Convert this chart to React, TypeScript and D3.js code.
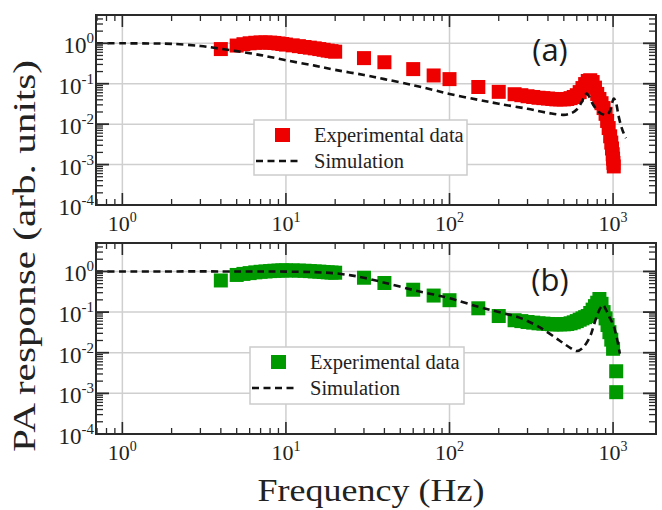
import React from "react";
import * as d3 from "d3";

// Panel (a): experimental response and simulation
const redFreq = [4, 5, 5.5, 6, 6.5, 7, 7.5, 8, 8.5, 9, 9.5, 10, 11, 12, 13, 14, 15, 16, 17, 18, 19, 20, 30, 40, 60, 80, 100, 150, 200, 250, 275, 300, 325, 350, 375, 400, 425, 450, 475, 500, 525, 550, 575, 600, 625, 650, 675, 700, 725, 750, 775, 800, 825, 850, 875, 900, 920, 940, 960, 975, 985, 995, 1000, 1005, 1010];
const redResp = [0.72, 0.88, 0.95, 1.0, 1.03, 1.05, 1.05, 1.04, 1.02, 0.99, 0.96, 0.93, 0.89, 0.85, 0.81, 0.78, 0.75, 0.72, 0.69, 0.66, 0.64, 0.62, 0.43, 0.34, 0.23, 0.16, 0.13, 0.083, 0.063, 0.055, 0.052, 0.049, 0.047, 0.045, 0.044, 0.043, 0.042, 0.041, 0.041, 0.041, 0.042, 0.044, 0.047, 0.052, 0.062, 0.078, 0.098, 0.117, 0.122, 0.11, 0.08, 0.056, 0.042, 0.033, 0.025, 0.018, 0.012, 0.008, 0.005, 0.0035, 0.0025, 0.0018, 0.0014, 0.0011, 0.0009];
const simAFreq = [0.69, 1, 1.5, 2, 3, 4, 5, 6, 7, 8, 10, 15, 20, 30, 40, 60, 80, 100, 150, 200, 300, 400, 500, 560, 600, 640, 670, 690, 710, 750, 800, 850, 920, 960, 990, 1010, 1040, 1080, 1120, 1160, 1200];
const simAResp = [1.0, 1.0, 0.99, 0.97, 0.86, 0.73, 0.64, 0.57, 0.51, 0.46, 0.38, 0.28, 0.22, 0.165, 0.13, 0.092, 0.07, 0.056, 0.04, 0.032, 0.024, 0.019, 0.017, 0.019, 0.023, 0.034, 0.05, 0.057, 0.05, 0.032, 0.022, 0.018, 0.017, 0.022, 0.035, 0.043, 0.035, 0.016, 0.009, 0.006, 0.0045];

// Panel (b): experimental response and simulation
const greenFreq = [4, 5, 5.5, 6, 6.5, 7, 7.5, 8, 8.5, 9, 9.5, 10, 11, 12, 13, 14, 15, 16, 17, 18, 19, 20, 30, 40, 60, 80, 100, 150, 200, 250, 275, 300, 325, 350, 375, 400, 425, 450, 475, 500, 525, 550, 575, 600, 625, 650, 675, 700, 725, 750, 775, 800, 825, 850, 875, 900, 925, 950, 975, 1000, 1045, 1045];
const greenResp = [0.6, 0.82, 0.87, 0.91, 0.95, 0.98, 1.0, 1.02, 1.04, 1.05, 1.06, 1.06, 1.06, 1.05, 1.04, 1.02, 1.0, 0.99, 0.97, 0.95, 0.94, 0.93, 0.7, 0.52, 0.355, 0.255, 0.196, 0.124, 0.08, 0.063, 0.06, 0.057, 0.055, 0.053, 0.052, 0.051, 0.05, 0.05, 0.05, 0.05, 0.051, 0.053, 0.056, 0.06, 0.065, 0.07, 0.075, 0.08, 0.095, 0.115, 0.14, 0.17, 0.21, 0.16, 0.1, 0.07, 0.048, 0.032, 0.021, 0.0125, 0.0035, 0.00107];
const simBFreq = [0.69, 1, 5, 10, 15, 20, 25, 30, 40, 60, 80, 100, 150, 200, 265, 350, 470, 550, 600, 650, 720, 760, 800, 840, 870, 900, 950, 1000, 1050, 1100];
const simBResp = [1.0, 1.0, 1.0, 0.99, 0.96, 0.9, 0.8, 0.7, 0.53, 0.35, 0.27, 0.22, 0.135, 0.1, 0.074, 0.044, 0.02, 0.013, 0.011, 0.013, 0.024, 0.045, 0.085, 0.13, 0.15, 0.12, 0.075, 0.05, 0.025, 0.0095];

const xMajor = [1, 10, 100, 1000];
const yMajor = [1e-4, 1e-3, 1e-2, 1e-1, 1];
const xTickExp = ["0", "1", "2", "3"];
const yTickExp = ["-4", "-3", "-2", "-1", "0"];
const legendLabels = ["Experimental data", "Simulation"];
const panelTags = ["(a)", "(b)"];

const W = 662;
const H = 510;
const LEFT = 96;
const RIGHT = 656;
const SERIF = "Liberation Serif";
const FRAME = "#2a2a2a";

type PanelProps = {
  top: number;
  bottom: number;
  freq: number[];
  resp: number[];
  simFreq: number[];
  simResp: number[];
  color: string;
  tag: string;
  tagY: number;
  legend: { x: number; y: number; w: number; h: number };
};

function minorTicks(lo: number, hi: number, startExp: number, endExp: number) {
  const out: number[] = [];
  for (let e = startExp; e <= endExp; e++) {
    for (let k = 2; k <= 9; k++) {
      const v = k * Math.pow(10, e);
      if (v > lo && v < hi) out.push(v);
    }
  }
  return out;
}

function Panel(p: PanelProps) {
  const x = d3.scaleLog().domain([0.69, 1830]).range([LEFT, RIGHT]);
  const y = d3.scaleLog().domain([1e-4, Math.pow(10, 0.7)]).range([p.bottom, p.top]);
  const xMinor = minorTicks(0.69, 1830, -1, 3);
  const yMinor = minorTicks(1e-4, Math.pow(10, 0.7), -4, 0);
  const line = d3
    .line<number>()
    .x((_, i) => x(p.simFreq[i]))
    .y((d) => y(d))
    .curve(d3.curveCatmullRom.alpha(0.5));
  const sq = 14;
  const lg = p.legend;
  return (
    <g>
      {/* decade grid */}
      {xMajor.map((v) => (
        <line key={"gx" + v} x1={x(v)} x2={x(v)} y1={p.top} y2={p.bottom} stroke="#cfcfcf" strokeWidth={1.5} />
      ))}
      {yMajor.slice(1).map((v) => (
        <line key={"gy" + v} x1={LEFT} x2={RIGHT} y1={y(v)} y2={y(v)} stroke="#cfcfcf" strokeWidth={1.5} />
      ))}

      {/* legend box sits over the grid */}
      <rect x={lg.x} y={lg.y} width={lg.w} height={lg.h} fill="#fff" stroke="#cccccc" strokeWidth={1.5} />

      {/* experimental points */}
      {p.freq.map((f, i) => (
        <rect key={"pt" + i} x={x(f) - sq / 2} y={y(p.resp[i]) - sq / 2} width={sq} height={sq} fill={p.color} />
      ))}

      {/* simulation */}
      <path d={line(p.simResp) || ""} fill="none" stroke="#111" strokeWidth={2.6} strokeDasharray="7,4.5" />

      {/* ticks, all four sides, pointing inward */}
      {xMajor.map((v) => (
        <g key={"tx" + v}>
          <line x1={x(v)} x2={x(v)} y1={p.bottom} y2={p.bottom - 12} stroke={FRAME} strokeWidth={1.6} />
          <line x1={x(v)} x2={x(v)} y1={p.top} y2={p.top + 12} stroke={FRAME} strokeWidth={1.6} />
        </g>
      ))}
      {xMinor.map((v) => (
        <g key={"mx" + v}>
          <line x1={x(v)} x2={x(v)} y1={p.bottom} y2={p.bottom - 6} stroke={FRAME} strokeWidth={1.3} />
          <line x1={x(v)} x2={x(v)} y1={p.top} y2={p.top + 6} stroke={FRAME} strokeWidth={1.3} />
        </g>
      ))}
      {yMajor.map((v) => (
        <g key={"ty" + v}>
          <line x1={LEFT} x2={LEFT + 13} y1={y(v)} y2={y(v)} stroke={FRAME} strokeWidth={1.8} />
          <line x1={RIGHT} x2={RIGHT - 13} y1={y(v)} y2={y(v)} stroke={FRAME} strokeWidth={1.8} />
        </g>
      ))}
      {yMinor.map((v) => (
        <g key={"my" + v}>
          <line x1={LEFT} x2={LEFT + 7} y1={y(v)} y2={y(v)} stroke={FRAME} strokeWidth={1.3} />
          <line x1={RIGHT} x2={RIGHT - 7} y1={y(v)} y2={y(v)} stroke={FRAME} strokeWidth={1.3} />
        </g>
      ))}

      {/* frame */}
      <rect x={LEFT} y={p.top} width={RIGHT - LEFT} height={p.bottom - p.top} fill="none" stroke={FRAME} strokeWidth={2} />

      {/* tick labels */}
      {xMajor.map((v, i) => (
        <text key={"lx" + v} x={x(v)} y={p.bottom + 26} textAnchor="middle" fontFamily={SERIF} fontSize={22} fill="#222">
          10<tspan dy={-9} fontSize={14}>{xTickExp[i]}</tspan>
        </text>
      ))}
      {yMajor.map((v, i) => (
        <text key={"ly" + v} x={94} y={y(v) + 10} textAnchor="end" fontFamily={SERIF} fontSize={23} fill="#222">
          10<tspan dy={-10} fontSize={15}>{yTickExp[i]}</tspan>
        </text>
      ))}

      {/* legend contents */}
      <rect x={lg.x + 21} y={lg.y + 8} width={15} height={14} fill={p.color} />
      <text x={lg.x + 60} y={lg.y + 22} fontFamily={SERIF} fontSize={20.5} fill="#222">
        {legendLabels[0]}
      </text>
      <line x1={lg.x + 2} x2={lg.x + 48} y1={lg.y + 41} y2={lg.y + 41} stroke="#111" strokeWidth={2.6} strokeDasharray="7,4.5" />
      <text x={lg.x + 60} y={lg.y + 48} fontFamily={SERIF} fontSize={20.5} fill="#222">
        {legendLabels[1]}
      </text>

      <text x={550} y={p.tagY} textAnchor="middle" fontFamily="Open Sans" fontSize={31} fill="#1a1a1a">
        {p.tag}
      </text>
    </g>
  );
}

export default function App() {
  return (
    <svg width={W} height={H} style={{ position: "absolute", left: 0, top: 0, background: "#fff" }}>
      <rect width={W} height={H} fill="#fff" />
      <Panel
        top={15}
        bottom={205}
        freq={redFreq}
        resp={redResp}
        simFreq={simAFreq}
        simResp={simAResp}
        color="#ee0000"
        tag={panelTags[0]}
        tagY={61}
        legend={{ x: 254, y: 120, w: 213, h: 55 }}
      />
      <Panel
        top={243}
        bottom={434}
        freq={greenFreq}
        resp={greenResp}
        simFreq={simBFreq}
        simResp={simBResp}
        color="#009a00"
        tag={panelTags[1]}
        tagY={291}
        legend={{ x: 250, y: 347, w: 214, h: 57 }}
      />
      <text
        transform="translate(35,256) rotate(-90) scale(1.03,0.8)"
        textAnchor="middle"
        fontFamily={SERIF}
        fontSize={40}
        fill="#222"
      >
        PA response (arb. units)
      </text>
      <text
        transform="translate(371,501) scale(1,0.9)"
        textAnchor="middle"
        fontFamily={SERIF}
        fontSize={36}
        fill="#222"
      >
        Frequency (Hz)
      </text>
    </svg>
  );
}
